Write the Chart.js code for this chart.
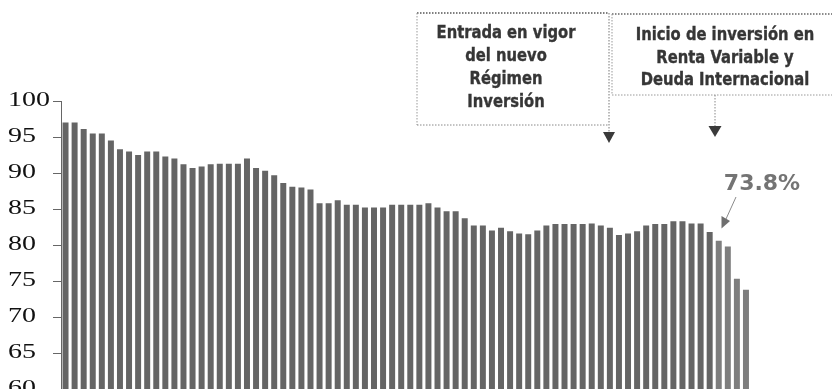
<!DOCTYPE html>
<html>
<head>
<meta charset="utf-8">
<script src="https://cdn.jsdelivr.net/npm/chart.js@4/dist/chart.umd.min.js"></script>
<style>
  html, body { margin: 0; padding: 0; background: #ffffff; overflow: hidden; }
  #wrap { position: relative; width: 832px; height: 404px; }
  canvas { display: block; }
</style>
</head>
<body>
<div id="wrap"><canvas id="chart" width="832" height="404"></canvas></div>
<script>
// Participación (%) por periodo
const shareValues = [
  97.0, 97.0, 96.1, 95.5, 95.5, 94.5, 93.3, 93.0, 92.5, 93.0,
  93.0, 92.3, 92.0, 91.2, 90.7, 90.9, 91.2, 91.3, 91.3, 91.3,
  92.0, 90.7, 90.3, 89.7, 88.6, 88.1, 88.0, 87.7, 85.8, 85.8,
  86.2, 85.6, 85.6, 85.2, 85.2, 85.2, 85.6, 85.6, 85.6, 85.6,
  85.8, 85.2, 84.7, 84.7, 83.7, 82.7, 82.7, 82.0, 82.4, 81.9,
  81.6, 81.5, 82.0, 82.7, 82.9, 82.9, 82.9, 82.9, 83.0, 82.7,
  82.4, 81.4, 81.6, 81.9, 82.7, 82.9, 82.9, 83.3, 83.3, 83.0,
  83.0, 81.8, 80.6, 79.8, 75.3, 73.8
];
// Periods after the start of equity / international debt investing
const recentPeriods = [73, 74, 75, 76];
const periodLabels = shareValues.map((_, i) => String(i + 1));

const yTickValues = [60, 65, 70, 75, 80, 85, 90, 95, 100];

const noteRegimen = ['Entrada en vigor', 'del nuevo', 'Régimen', 'Inversión'];
const noteRenta = ['Inicio de inversión en', 'Renta Variable y', 'Deuda Internacional'];
const lastValueLabel = '73.8%';

// Widen the serif tick labels of the value axis
const wideTicks = {
  id: 'wideTicks',
  afterLayout(chart) {
    const s = chart.scales.y;
    if (s._wide) return;
    const base = s.drawLabels.bind(s);
    s.drawLabels = function (area) {
      const ctx = this.ctx, x0 = this.left;
      ctx.save();
      ctx.translate(x0, 0);
      ctx.scale(1.4, 1);
      ctx.translate(-x0, 0);
      base(area);
      ctx.restore();
    };
    s._wide = true;
  }
};

function dottedLine(ctx, x1, y1, x2, y2, color, width) {
  ctx.save();
  ctx.strokeStyle = color;
  ctx.lineWidth = width;
  ctx.setLineDash([1.5, 1.5]);
  ctx.beginPath();
  ctx.moveTo(x1, y1);
  ctx.lineTo(x2, y2);
  ctx.stroke();
  ctx.restore();
}

function downTriangle(ctx, x, tipY, w, h, color) {
  ctx.save();
  ctx.fillStyle = color;
  ctx.beginPath();
  ctx.moveTo(x - w / 2, tipY - h);
  ctx.lineTo(x + w / 2, tipY - h);
  ctx.lineTo(x, tipY);
  ctx.closePath();
  ctx.fill();
  ctx.restore();
}

function noteText(ctx, lines, cx, baselines) {
  ctx.save();
  ctx.font = 'bold 18px "DejaVu Sans", Verdana, sans-serif';
  ctx.fillStyle = '#363636';
  ctx.strokeStyle = '#363636';
  ctx.lineWidth = 0.4;
  ctx.textAlign = 'center';
  ctx.textBaseline = 'alphabetic';
  lines.forEach((t, i) => {
    ctx.save();
    ctx.translate(cx, baselines[i]);
    ctx.scale(0.82, 1);
    ctx.fillText(t, 0, 0);
    ctx.strokeText(t, 0, 0);
    ctx.restore();
  });
  ctx.restore();
}

// Callout boxes, arrows and the last-value tag
const callouts = {
  id: 'callouts',
  afterDraw(chart) {
    const ctx = chart.ctx;
    // Box: new investment regime
    dottedLine(ctx, 417, 13, 609, 13, '#555', 1.6);
    dottedLine(ctx, 417, 13, 417, 125, '#999', 1);
    dottedLine(ctx, 417, 125, 609, 125, '#888', 1);
    dottedLine(ctx, 609, 13, 609, 133, '#777', 1);
    downTriangle(ctx, 609, 143, 12, 11, '#3a3a3a');
    noteText(ctx, noteRegimen, 506, [38, 61, 84, 106.5]);

    // Box: equity and international debt
    dottedLine(ctx, 612, 14, 832, 14, '#666', 1.4);
    dottedLine(ctx, 612, 14, 612, 95, '#999', 1);
    dottedLine(ctx, 612, 95, 832, 95, '#999', 1);
    dottedLine(ctx, 715, 95, 715, 126, '#888', 1);
    downTriangle(ctx, 715, 137, 13, 11, '#3a3a3a');
    noteText(ctx, noteRenta, 725, [39.5, 62.5, 85]);

    // Last-value tag with arrow
    ctx.save();
    ctx.font = 'bold 22px "DejaVu Sans", Verdana, sans-serif';
    ctx.fillStyle = '#747474';
    ctx.textAlign = 'center';
    ctx.textBaseline = 'alphabetic';
    ctx.fillText(lastValueLabel, 762, 190);
    ctx.strokeStyle = '#8a8a8a';
    ctx.lineWidth = 1;
    ctx.beginPath();
    ctx.moveTo(736, 197);
    ctx.lineTo(726, 219);
    ctx.stroke();
    ctx.fillStyle = '#6f6f6f';
    ctx.beginPath();
    ctx.moveTo(721.5, 228.5);
    ctx.lineTo(721.5, 216);
    ctx.lineTo(730, 221);
    ctx.closePath();
    ctx.fill();
    ctx.restore();
  }
};

new Chart(document.getElementById('chart'), {
  type: 'bar',
  data: {
    labels: periodLabels,
    datasets: [{
      data: shareValues,
      backgroundColor: periodLabels.map((p) =>
        recentPeriods.includes(Number(p)) ? '#7e7e7e' : '#656565'),
      borderWidth: 0,
      barPercentage: 0.66,
      categoryPercentage: 1.0
    }]
  },
  options: {
    responsive: false,
    animation: false,
    devicePixelRatio: 1,
    layout: { padding: { left: 8, right: 81.5, top: 101, bottom: 0 } },
    plugins: {
      legend: { display: false },
      tooltip: { enabled: false }
    },
    scales: {
      x: {
        grid: { display: false, drawTicks: false },
        ticks: { display: false },
        border: { display: true, color: '#555', width: 1 }
      },
      y: {
        min: 60,
        max: 100,
        afterBuildTicks(scale) {
          scale.ticks = yTickValues.map((v) => ({ value: v }));
        },
        afterFit(scale) { scale.width = 53; },
        grid: { drawOnChartArea: false, drawTicks: true, tickLength: 8, color: '#666' },
        border: { display: true, color: '#666', width: 1 },
        ticks: {
          crossAlign: 'far',
          padding: 3,
          color: '#111',
          font: { family: '"Liberation Serif", "Times New Roman", serif', size: 20 }
        }
      }
    }
  },
  plugins: [wideTicks, callouts]
});
</script>
</body>
</html>
